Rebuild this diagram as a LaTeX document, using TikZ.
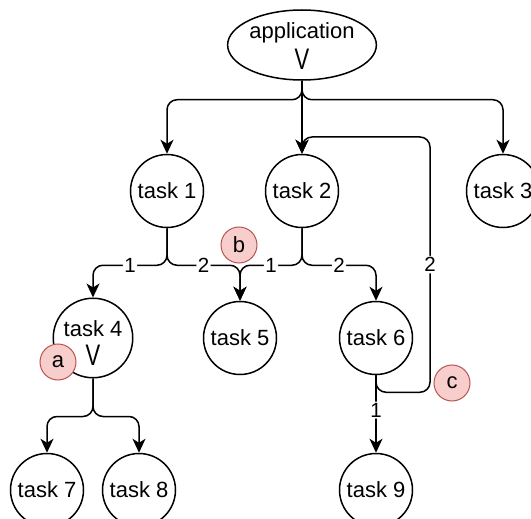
\documentclass[tikz,border=0pt]{standalone}
\usepackage{fontspec}
\setmainfont{Liberation Sans}
\usetikzlibrary{arrows.meta,shapes.geometric}
\definecolor{redfill}{HTML}{F8CECC}
\definecolor{redline}{HTML}{B85450}
\newcommand{\tallvee}{\scalebox{1.0}[1.35]{V}}
\begin{document}
\begin{tikzpicture}[x=1pt,y=-1pt,
  task/.style={circle,draw,line width=1.5pt,minimum size=73pt,inner sep=0pt,font=\fontsize{22}{24}\selectfont,align=center},
  edge/.style={line width=1.5pt,-{Stealth[length=14pt,width=13pt,inset=4pt]},rounded corners=10pt},
  lbl/.style={fill=white,inner sep=1.5pt,font=\fontsize{20.5}{22}\selectfont},
  note/.style={circle,draw=redline,fill=redfill,line width=1pt,minimum size=36pt,inner sep=0pt,font=\fontsize{22}{24}\selectfont}]
\useasboundingbox (0,0) rectangle (531,519);
\node[ellipse,draw,line width=1.5pt,minimum width=148pt,minimum height=70pt,inner sep=0pt,align=center,font=\fontsize{22}{24}\selectfont] (app) at (302,45) {\rule{0pt}{18.3pt}application\\[4.3pt]\tallvee};
\node[task] (t1) at (167,191) {task 1};
\node[task] (t2) at (302,191) {task 2};
\node[task] (t3) at (503,191) {task 3};
\node[task] (t4) at (93,338) {\rule{0pt}{25.7pt}task 4\\[4.3pt]\tallvee};
\node[task] (t5) at (240,338) {task 5};
\node[task] (t6) at (376,338) {task 6};
\node[task] (t7) at (47,490) {task 7};
\node[task] (t8) at (139,490) {task 8};
\node[task] (t9) at (376,490) {task 9};
\coordinate (lp) at (430,137);
\draw[edge] (app.south) -- ++(0,19) -| (t1.north);
\draw[edge] (app.south) -- (t2.north);
\draw[edge] (app.south) -- ++(0,19) -| (t3.north);
\draw[edge] (t1.south) -- ++(0,37) -| node[lbl,pos=0.25]{1} (t4.north);
\draw[edge] (t1.south) -- ++(0,37) -| node[lbl,pos=0.25]{2} (t5.north);
\draw[edge] (t2.south) -- ++(0,37) -| node[lbl,pos=0.25]{1} (t5.north);
\draw[edge] (t2.south) -- ++(0,37) -| node[lbl,pos=0.25]{2} (t6.north);
\draw[edge] (t6.south) -- ++(0,17) -| node[lbl,pos=0.75]{2} (lp) -| (t2.north);
\draw[edge] (t6.south) -- node[lbl,pos=0.45]{1} (t9.north);
\draw[edge] (t4.south) -- ++(0,38) -| (t7.north);
\draw[edge] (t4.south) -- ++(0,38) -| (t8.north);
\node[note] (na) at (58,362) {a};
\node[note] (nb) at (239,245) {b};
\node[note] (nc) at (452,383) {c};
\end{tikzpicture}
\end{document}
